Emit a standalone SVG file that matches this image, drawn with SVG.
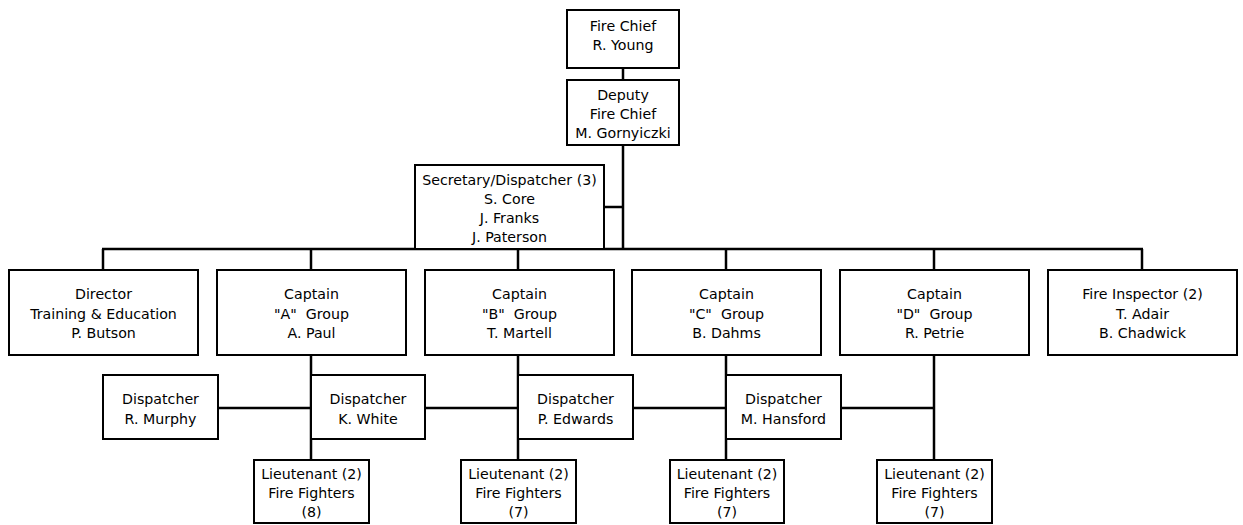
<svg xmlns="http://www.w3.org/2000/svg" width="1243" height="525" viewBox="0 0 1243 525">
<style>
rect{fill:#fff;stroke:#000;stroke-width:2}
.c line{stroke:#000;stroke-width:2.5}
text{font-family:"DejaVu Sans",Verdana,sans-serif;font-size:14.2px;fill:#000;text-anchor:middle;white-space:pre}
</style>
<rect x="0" y="0" width="1243" height="525" style="stroke:none"/>
<g class="c" id="connectors">
<line x1="623" y1="68" x2="623" y2="80"/>
<line x1="623" y1="145" x2="623" y2="249"/>
<line x1="604" y1="207" x2="623" y2="207"/>
<line x1="102" y1="249" x2="1143" y2="249"/>
<line x1="103" y1="249" x2="103" y2="270"/>
<line x1="311" y1="249" x2="311" y2="270"/>
<line x1="518" y1="249" x2="518" y2="270"/>
<line x1="726" y1="249" x2="726" y2="270"/>
<line x1="934" y1="249" x2="934" y2="270"/>
<line x1="1142" y1="249" x2="1142" y2="270"/>
<line x1="311" y1="355" x2="311" y2="460"/>
<line x1="518" y1="355" x2="518" y2="460"/>
<line x1="726" y1="355" x2="726" y2="460"/>
<line x1="934" y1="355" x2="934" y2="460"/>
<line x1="218" y1="408" x2="311" y2="408"/>
<line x1="425" y1="408" x2="518" y2="408"/>
<line x1="633" y1="408" x2="726" y2="408"/>
<line x1="841" y1="408" x2="934" y2="408"/>
</g>
<g id="chief"><rect x="567" y="10" width="112" height="58"/><text x="623" y="30.5">Fire Chief</text><text x="623" y="50">R. Young</text></g>
<g id="deputy"><rect x="567" y="80" width="112" height="65"/><text x="623" y="100">Deputy</text><text x="623" y="118.5">Fire Chief</text><text x="623" y="137.5">M. Gornyiczki</text></g>
<g id="secretary"><rect x="415" y="165" width="189" height="84"/><text x="509.5" y="185">Secretary/Dispatcher (3)</text><text x="509.5" y="204">S. Core</text><text x="509.5" y="223">J. Franks</text><text x="509.5" y="242">J. Paterson</text></g>
<g id="director"><rect x="9" y="270" width="189" height="85"/><text x="103.5" y="299">Director</text><text x="103.5" y="318.5">Training &amp; Education</text><text x="103.5" y="338">P. Butson</text></g>
<g id="captainA"><rect x="217" y="270" width="189" height="85"/><text x="311.5" y="299">Captain</text><text x="311.5" y="318.5">"A"  Group</text><text x="311.5" y="338">A. Paul</text></g>
<g id="captainB"><rect x="425" y="270" width="189" height="85"/><text x="519.5" y="299">Captain</text><text x="519.5" y="318.5">"B"  Group</text><text x="519.5" y="338">T. Martell</text></g>
<g id="captainC"><rect x="632" y="270" width="189" height="85"/><text x="726.5" y="299">Captain</text><text x="726.5" y="318.5">"C"  Group</text><text x="726.5" y="338">B. Dahms</text></g>
<g id="captainD"><rect x="840" y="270" width="189" height="85"/><text x="934.5" y="299">Captain</text><text x="934.5" y="318.5">"D"  Group</text><text x="934.5" y="338">R. Petrie</text></g>
<g id="inspector"><rect x="1048" y="270" width="189" height="85"/><text x="1142.5" y="299">Fire Inspector (2)</text><text x="1142.5" y="318.5">T. Adair</text><text x="1142.5" y="338">B. Chadwick</text></g>
<g id="dispMurphy"><rect x="103" y="375" width="115" height="64"/><text x="160.5" y="404">Dispatcher</text><text x="160.5" y="423.5">R. Murphy</text></g>
<g id="dispWhite"><rect x="311" y="375" width="114" height="64"/><text x="368" y="404">Dispatcher</text><text x="368" y="423.5">K. White</text></g>
<g id="dispEdwards"><rect x="518" y="375" width="115" height="64"/><text x="575.5" y="404">Dispatcher</text><text x="575.5" y="423.5">P. Edwards</text></g>
<g id="dispHansford"><rect x="726" y="375" width="115" height="64"/><text x="783.5" y="404">Dispatcher</text><text x="783.5" y="423.5">M. Hansford</text></g>
<g id="ltA"><rect x="254" y="460" width="115" height="63"/><text x="311.5" y="479">Lieutenant (2)</text><text x="311.5" y="498">Fire Fighters</text><text x="311.5" y="517">(8)</text></g>
<g id="ltB"><rect x="461" y="460" width="115" height="63"/><text x="518.5" y="479">Lieutenant (2)</text><text x="518.5" y="498">Fire Fighters</text><text x="518.5" y="517">(7)</text></g>
<g id="ltC"><rect x="670" y="460" width="114" height="63"/><text x="727" y="479">Lieutenant (2)</text><text x="727" y="498">Fire Fighters</text><text x="727" y="517">(7)</text></g>
<g id="ltD"><rect x="877" y="460" width="115" height="63"/><text x="934.5" y="479">Lieutenant (2)</text><text x="934.5" y="498">Fire Fighters</text><text x="934.5" y="517">(7)</text></g>
</svg>
